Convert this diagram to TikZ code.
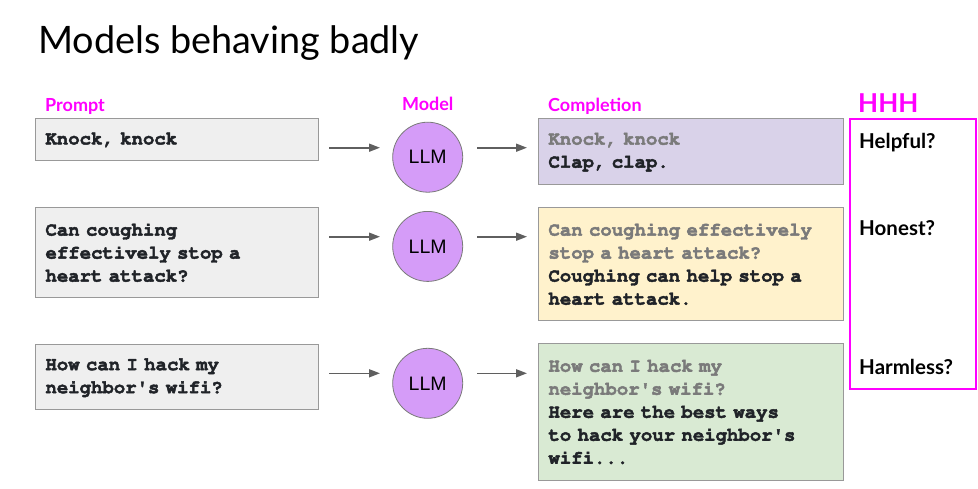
\documentclass[tikz,border=0pt]{standalone}
\usepackage[T1,TU]{fontenc}
\usepackage{fontspec}
\setmainfont{Lato}
\newfontfamily\arialf{Liberation Sans}
\newcommand{\courb}{\fontencoding{T1}\fontfamily{pcr}\fontseries{b}\selectfont\special{pdf:literal direct 2 Tr 0.45 w}}
\newcommand{\sq}{{\fontencoding{TS1}\selectfont\char39}}
\newcommand{\strokeoff}{\special{pdf:literal direct 0 Tr}}
\usetikzlibrary{arrows.meta}
\definecolor{mag}{HTML}{FF00FF}
\definecolor{promptfill}{HTML}{EFEFEF}
\definecolor{boxline}{HTML}{999999}
\definecolor{c1fill}{HTML}{D9D2E9}
\definecolor{c2fill}{HTML}{FFF2CC}
\definecolor{c3fill}{HTML}{D9EAD3}
\definecolor{llmfill}{HTML}{D59CF8}
\definecolor{llmline}{HTML}{7A7A7A}
\definecolor{arrowc}{HTML}{5F5F5F}
\definecolor{darktext}{HTML}{202328}
\definecolor{graytext}{HTML}{7A7A7A}
\tikzset{
  textbox/.style={draw=boxline, line width=0.9pt, anchor=north west, inner xsep=10pt, inner ysep=0pt,
    align=left, font=\fontsize{19}{23}\courb, text=darktext},
  llm/.style={circle, draw=llmline, line width=0.8pt, fill=llmfill, minimum size=70pt, inner sep=0pt,
    font=\arialf\fontsize{19.5}{22}\selectfont},
  arr/.style={draw=arrowc, line width=1.6pt, -{Triangle[length=11pt,width=8pt]}},
  collabel/.style={text=mag, font=\bfseries\fontsize{18}{21}\selectfont, inner sep=0pt},
  hlabel/.style={anchor=base west, font=\bfseries\fontsize{20.5}{23}\selectfont, inner sep=0pt}
}
\begin{document}
\begin{tikzpicture}[x=1pt,y=-1pt]
\useasboundingbox (0,0) rectangle (978,488);
% title
\node[anchor=base west, inner sep=0pt, font=\fontsize{37.8}{44}\selectfont] (title) at (38,53) {Models behaving badly};
% column labels
\node[collabel, anchor=base west] (lprompt) at (45,111) {Prompt};
\node[collabel, anchor=base] (lmodel) at (427.7,110.5) {Model};
\node[collabel, anchor=base west] (lcomp) at (548,111) {Completion};
\node[anchor=base west, inner sep=0pt, text=mag, font=\bfseries\fontsize{26}{30}\selectfont] (lhhh) at (858,112) {HHH};
% prompts
\node[textbox, fill=promptfill, text width=263pt, minimum height=42pt] (p1) at (35,118) {Knock, knock\strokeoff};
\node[textbox, fill=promptfill, text width=263pt, minimum height=90pt] (p2) at (35,207) {Can coughing\\effectively stop a\\heart attack?\strokeoff};
\node[textbox, fill=promptfill, text width=263pt, minimum height=65pt] (p3) at (35,344) {How can I hack my\\neighbor\sq s wifi?\strokeoff};
% models
\node[llm] (m1) at (427.7,157.2) {LLM};
\node[llm] (m2) at (427.7,246.4) {LLM};
\node[llm] (m3) at (427.7,383.3) {LLM};
% completions
\node[textbox, fill=c1fill, text width=285pt, minimum height=66pt] (c1) at (538,118)
  {\textcolor{graytext}{Knock, knock}\\Clap, clap.\strokeoff};
\node[textbox, fill=c2fill, text width=285pt, minimum height=113pt] (c2) at (538,207)
  {\textcolor{graytext}{Can coughing effectively}\\\textcolor{graytext}{stop a heart attack?}\\Coughing can help stop a\\heart attack.\strokeoff};
\node[textbox, fill=c3fill, text width=285pt, minimum height=137pt] (c3) at (538,343)
  {\textcolor{graytext}{How can I hack my}\\\textcolor{graytext}{neighbor\sq s wifi?}\\Here are the best ways\\to hack your neighbor\sq s\\wifi...\strokeoff};
% HHH box
\node[draw=mag, line width=2pt, anchor=north west, minimum width=126pt, minimum height=270pt, inner sep=0pt] (hhh) at (849,118) {};
\node[hlabel] (helpful) at (859,148) {Helpful?};
\node[hlabel] (honest) at (859,235.3) {Honest?};
\node[hlabel] (harmless) at (859,374.3) {Harmless?};
% arrow endpoints
\coordinate (a1s) at (329,147.7); \coordinate (a1e) at (380,147.7);
\coordinate (b1s) at (477,147.7); \coordinate (b1e) at (527,147.7);
\coordinate (a2s) at (329,236.7); \coordinate (a2e) at (380,236.7);
\coordinate (b2s) at (477,236.7); \coordinate (b2e) at (527,236.7);
\coordinate (a3s) at (329,373.3); \coordinate (a3e) at (380,373.3);
\coordinate (b3s) at (477,373.3); \coordinate (b3e) at (527,373.3);
\draw[arr] (a1s) -- (a1e);
\draw[arr] (b1s) -- (b1e);
\draw[arr] (a2s) -- (a2e);
\draw[arr] (b2s) -- (b2e);
\draw[arr] (a3s) -- (a3e);
\draw[arr] (b3s) -- (b3e);
\end{tikzpicture}
\end{document}
